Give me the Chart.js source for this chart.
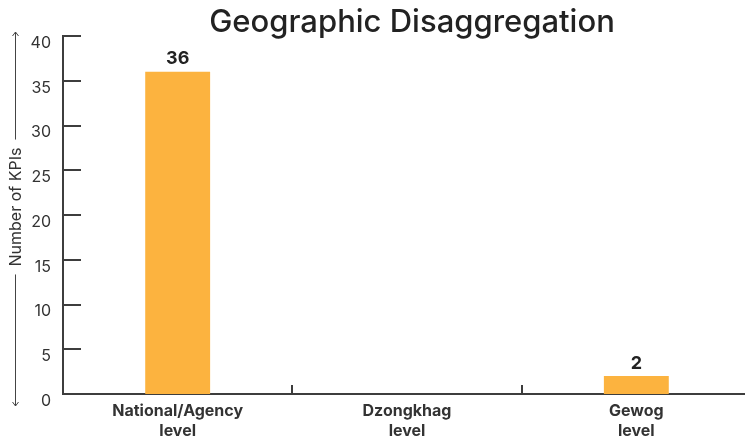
<!DOCTYPE html>
<html>
<head>
<meta charset="utf-8">
<script src="https://cdn.jsdelivr.net/npm/chart.js@4.4.1/dist/chart.umd.min.js"></script>
<style>
  html, body { margin: 0; padding: 0; background: #ffffff; overflow: hidden; }
  #wrap { width: 745px; height: 441px; overflow: hidden; }
  canvas { display: block; }
</style>
</head>
<body>
<div id="wrap"><canvas id="c" width="752" height="441"></canvas></div>
<script>
const categories = [["National/Agency", "level"], ["Dzongkhag", "level"], ["Gewog", "level"]];
const kpiCounts = [36, 0, 2];
const yMin = 0;
const yMax = 40;
const yStep = 5;
const chartTitle = "Geographic Disaggregation";
const yAxisTitle = "Number of KPIs";

const FONT = "Inter, 'Noto Sans', sans-serif";
const INK = "#333333";
const AXIS = "#3d3d3d";
const BAR = "#FCB33F";

const decorPlugin = {
  id: "decor",
  afterDraw(chart) {
    const ctx = chart.ctx;
    const ca = chart.chartArea;
    const y = chart.scales.y;
    const x = chart.scales.x;
    ctx.save();
    // inner y ticks
    ctx.strokeStyle = AXIS;
    ctx.lineWidth = 2;
    y.ticks.forEach(t => {
      if (t.value === yMin) return;
      const py = Math.round(y.getPixelForValue(t.value));
      ctx.beginPath();
      ctx.moveTo(ca.left, py);
      ctx.lineTo(ca.left + 18, py);
      ctx.stroke();
    });
    // x category boundary ticks (upward)
    for (let i = 0; i < categories.length - 1; i++) {
      const px = Math.round((x.getPixelForTick(i) + x.getPixelForTick(i + 1)) / 2);
      ctx.beginPath();
      ctx.moveTo(px, ca.bottom);
      ctx.lineTo(px, ca.bottom - 9);
      ctx.stroke();
    }
    // title
    ctx.fillStyle = "#222222";
    ctx.font = "500 31px " + FONT;
    ctx.textAlign = "center";
    ctx.textBaseline = "alphabetic";
    ctx.fillText(chartTitle, 412, 32);
    // y axis title with arrows
    const ax = 15;
    const top = 32, bottom = 406;
    const yc = 207;
    ctx.font = "400 16px " + FONT;
    const tw = ctx.measureText(yAxisTitle).width;
    ctx.save();
    ctx.translate(ax + 1, yc);
    ctx.rotate(-Math.PI / 2);
    ctx.fillStyle = INK;
    ctx.textAlign = "center";
    ctx.textBaseline = "middle";
    ctx.fillText(yAxisTitle, 0, 0);
    ctx.restore();
    ctx.strokeStyle = "#444444";
    ctx.lineWidth = 1;
    ctx.beginPath();
    ctx.moveTo(ax + 0.5, top);
    ctx.lineTo(ax + 0.5, yc - tw / 2 - 8);
    ctx.moveTo(ax + 0.5, yc + tw / 2 + 8);
    ctx.lineTo(ax + 0.5, bottom);
    // arrow heads
    ctx.moveTo(ax + 0.5 - 3, top + 4);
    ctx.lineTo(ax + 0.5, top);
    ctx.lineTo(ax + 0.5 + 3, top + 4);
    ctx.moveTo(ax + 0.5 - 3, bottom - 4);
    ctx.lineTo(ax + 0.5, bottom);
    ctx.lineTo(ax + 0.5 + 3, bottom - 4);
    ctx.stroke();
    // value labels
    const meta = chart.getDatasetMeta(0);
    ctx.fillStyle = "#222222";
    ctx.font = "700 18px " + FONT;
    ctx.textAlign = "center";
    ctx.textBaseline = "bottom";
    meta.data.forEach((bar, i) => {
      const v = kpiCounts[i];
      if (!v) return;
      ctx.fillText(String(v), bar.x, bar.y - 4);
    });
    ctx.restore();
  }
};

new Chart(document.getElementById("c"), {
  type: "bar",
  data: {
    labels: categories,
    datasets: [{
      data: kpiCounts,
      backgroundColor: BAR,
      borderWidth: 0,
      categoryPercentage: 1.0,
      barPercentage: 0.283
    }]
  },
  options: {
    responsive: false,
    animation: false,
    layout: { padding: { top: 36, right: 1, left: 0, bottom: 0 } },
    plugins: {
      legend: { display: false },
      title: { display: false },
      tooltip: { enabled: false }
    },
    scales: {
      x: {
        grid: { display: false, drawTicks: false },
        border: { display: true, color: AXIS, width: 2 },
        ticks: {
          color: INK,
          padding: 8,
          maxRotation: 0,
          autoSkip: false,
          font: { family: FONT, size: 16, weight: "700", lineHeight: 1.2 }
        },
        afterFit(scale) { scale.height = 47; }
      },
      y: {
        min: yMin,
        max: yMax,
        grid: { display: false, drawTicks: false },
        border: { display: true, color: AXIS, width: 2 },
        ticks: {
          stepSize: yStep,
          color: INK,
          padding: 12,
          labelOffset: 7,
          font: { family: FONT, size: 16, weight: "400" }
        },
        afterFit(scale) { scale.width = 63; }
      }
    }
  },
  plugins: [decorPlugin]
});
</script>
</body>
</html>
